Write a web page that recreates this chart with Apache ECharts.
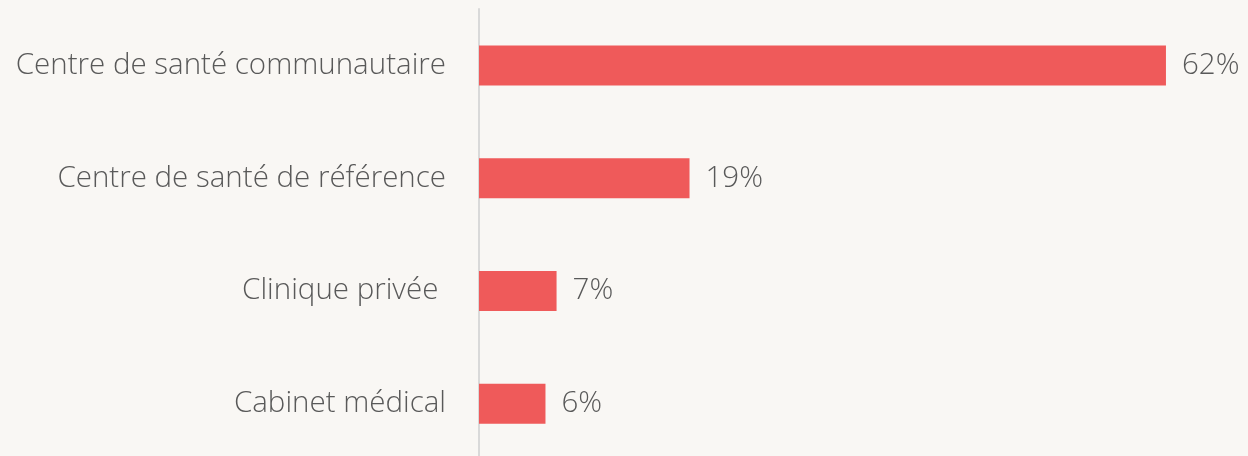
<!DOCTYPE html>
<html>
<head>
<meta charset="utf-8">
<script src="https://cdn.jsdelivr.net/npm/echarts@6/dist/echarts.min.js"></script>
<style>
  html, body { margin: 0; padding: 0; background: #f9f7f4; }
  #chart { width: 1248px; height: 456px; }
</style>
</head>
<body>
<div id="chart"></div>
<script>
const categories = ['Centre de santé communautaire', 'Centre de santé de référence', 'Clinique privée ', 'Cabinet médical'];
const shares = [62, 19, 7, 6];

const chart = echarts.init(document.getElementById('chart'));
const font = '"Open Sans", sans-serif';

chart.setOption({
  backgroundColor: '#f9f7f4',
  animation: false,
  grid: { left: 479, top: 9, width: 1108, height: 451, outerBoundsMode: 'none' },
  xAxis: {
    type: 'value',
    min: 0,
    max: 100,
    show: false
  },
  yAxis: {
    type: 'category',
    inverse: true,
    data: categories,
    axisLine: { show: true, lineStyle: { color: '#d9d9d9', width: 2 } },
    axisTick: { show: false },
    axisLabel: {
      margin: 33,
      color: '#595959',
      fontFamily: font,
      fontWeight: 300,
      fontSize: 29.5,
      padding: [4, 0, 0, 0]
    }
  },
  series: [{
    type: 'bar',
    data: shares,
    barWidth: 40,
    itemStyle: { color: '#ef5a5a' },
    label: {
      show: true,
      position: 'right',
      distance: 16,
      formatter: '{c}%',
      color: '#595959',
      fontFamily: font,
      fontWeight: 300,
      fontSize: 29.5,
      padding: [4, 0, 0, 0]
    }
  }]
});
</script>
</body>
</html>
